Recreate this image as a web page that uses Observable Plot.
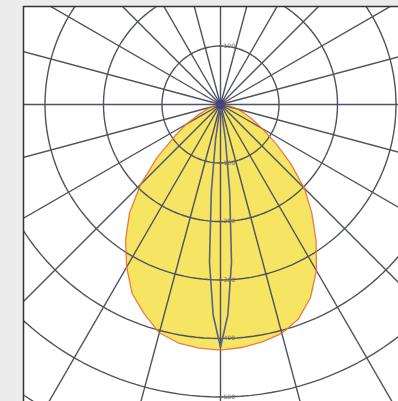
<!DOCTYPE html>
<html>
<head>
<meta charset="utf-8">
<script src="https://cdn.jsdelivr.net/npm/d3@7"></script>
<script src="https://cdn.jsdelivr.net/npm/@observablehq/plot@0.6"></script>
<style>
  html, body { margin: 0; padding: 0; background: #ececec; }
  #chart svg { display: block; }
</style>
</head>
<body>
<div id="chart"></div>
<script>
// Polar angles (degrees from nadir) and luminous intensity readings
const angles = [0, 5, 10, 15, 20, 25, 30, 35, 40, 45, 50, 55, 60, 65, 70, 75, 80, 85, 90];
// C0 plane (right half)
const c0 = [420, 417, 412, 405, 390, 364, 328, 285, 243, 203, 156, 115, 82, 60, 43, 29, 17, 7, 0];
// C180 plane (left half)
const c180 = [420, 418, 414, 404, 381, 357, 321, 283, 242, 193, 142, 97, 68, 41, 26, 15, 9, 3, 0];
// C90/C270 plane: narrow lobe
const c90Angles = [0, 2, 4, 6, 8, 10];
const c90 = [415, 360, 270, 150, 60, 0];
// Grid rings and their labels
const rings = [100, 200, 300, 400, 500, 600];
const ringLabels = ["100", "200", "300", "400", "500"];
const spokeStep = 15;

const W = 398, H = 401;
const mL = 23, mT = 6;
const cx = 220, cy = 104;      // pixel position of the lamp centre
const pxPerUnit = 0.585;

const xDomain = [(mL - cx) / pxPerUnit, (W - cx) / pxPerUnit];
const yDomain = [-(H - cy) / pxPerUnit, (cy - mT) / pxPerUnit];

const rad = d => d * Math.PI / 180;
const toXY = (deg, r) => ({x: r * Math.sin(rad(deg)), y: -r * Math.cos(rad(deg))});

// Main curve: left half from 90 down to 0, then right half 0 to 90
const curve = [];
for (let i = angles.length - 1; i >= 0; i--) curve.push(toXY(-angles[i], c180[i]));
for (let i = 1; i < angles.length; i++) curve.push(toXY(angles[i], c0[i]));

const lens = [];
for (let i = c90Angles.length - 1; i >= 0; i--) lens.push(toXY(-c90Angles[i], c90[i]));
for (let i = 1; i < c90Angles.length; i++) lens.push(toXY(c90Angles[i], c90[i]));

// Grid circles
const circles = [];
for (const r of rings) {
  for (let a = 0; a <= 360; a += 2) circles.push({ring: r, ...toXY(a, r)});
}
// Spokes
const spokes = [];
for (let a = 0; a < 360; a += spokeStep) {
  spokes.push({a, x1: 0, y1: 0, ...(() => { const p = toXY(a, 800); return {x2: p.x, y2: p.y}; })()});
}
const labels = ringLabels.map((t, i) => ({t, x: 0, y: -rings[i]}));
labels.push({t: ringLabels[0], x: 0, y: rings[0]});

const grid = "#4f5260";

const plot = Plot.plot({
  width: W, height: H,
  marginLeft: mL, marginTop: mT, marginRight: 0, marginBottom: 0,
  x: {domain: xDomain, axis: null},
  y: {domain: yDomain, axis: null},
  style: {background: "#ececec", overflow: "hidden"},
  marks: [
    Plot.frame({fill: "white", stroke: "none"}),
    Plot.line(curve, {x: "x", y: "y", fill: "#f6e463", stroke: "none", clip: true}),
    Plot.line(circles, {x: "x", y: "y", z: "ring", stroke: grid, strokeWidth: 1.4, clip: true}),
    Plot.link(spokes, {x1: "x1", y1: "y1", x2: "x2", y2: "y2", stroke: grid, strokeWidth: 1.4, clip: true}),
    Plot.line(curve, {x: "x", y: "y", stroke: "#e8703a", strokeWidth: 1.3, strokeOpacity: 0.9, clip: true}),
    Plot.line(lens, {x: "x", y: "y", stroke: "#5b6382", strokeWidth: 1.6, clip: true}),
    Plot.dot([{x: 0, y: 0}], {x: "x", y: "y", r: 5, fill: "#3d3f8c", fillOpacity: 0.85, stroke: "none"}),
    Plot.text(labels, {x: "x", y: "y", text: "t", dx: 3, textAnchor: "start", fontSize: 6, fill: "#6a6a6a", fontFamily: "DejaVu Sans"}),
    Plot.ruleY([yDomain[1]], {stroke: "#333", strokeWidth: 1.5}),
    Plot.ruleX([xDomain[0]], {stroke: "#333", strokeWidth: 1.5})
  ]
});
document.getElementById("chart").appendChild(plot);
</script>
</body>
</html>
